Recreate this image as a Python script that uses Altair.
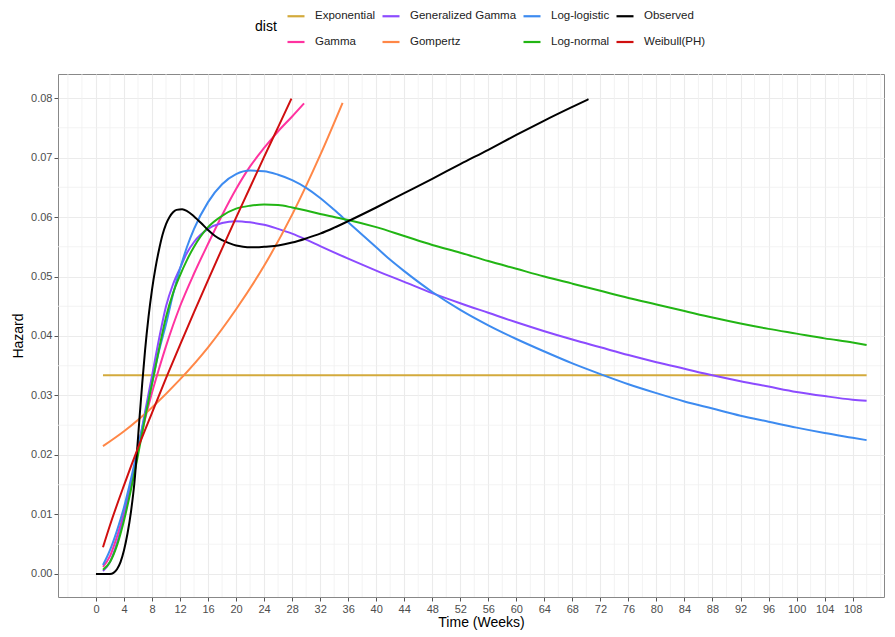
import altair as alt
import pandas as pd

# ---------------- data ----------------
obs_t = [0, 1, 2, 2.5, 3, 3.5, 4, 4.5, 5, 5.5, 5.85, 6.2, 6.6, 7, 7.5, 8, 8.5, 9, 9.5, 10,
         10.5, 11, 11.5, 12.3, 13, 14, 15, 16, 17, 18, 19, 20, 21, 22, 23, 24, 26, 28, 30,
         32, 34, 36, 40, 44, 48, 52, 56, 60, 64, 68, 70.3]
obs_h = [0, 0, 0, 0.0002, 0.0008, 0.0020, 0.0040, 0.0068, 0.0105, 0.0155, 0.0205, 0.0260,
         0.0320, 0.0375, 0.0432, 0.0478, 0.0515, 0.0545, 0.0570, 0.0588, 0.0600, 0.0608,
         0.0612, 0.0613, 0.0610, 0.0601, 0.0590, 0.0578, 0.0568, 0.0561, 0.0556, 0.0552,
         0.0550, 0.0549, 0.0549, 0.0550, 0.0552, 0.0557, 0.0564, 0.0572, 0.0582, 0.0593,
         0.0616, 0.0640, 0.0664, 0.0689, 0.0713, 0.0738, 0.0762, 0.0785, 0.0798]

exp_t = [1, 110]
exp_h = [0.0334, 0.0334]

gam_t = [1, 2, 3, 4, 5, 6, 7, 8, 9, 10, 11, 12, 14, 16, 18, 20, 22, 24, 26, 28, 29.7]
gam_h = [0.0012, 0.0030, 0.0063, 0.0103, 0.0153, 0.0208, 0.0260, 0.0305, 0.0345, 0.0383,
         0.0418, 0.0450, 0.0505, 0.0555, 0.0603, 0.0647, 0.0685, 0.0716, 0.0744, 0.0769,
         0.0791]

gg_t = [1, 2, 3, 4, 5, 6, 7, 8, 9, 10, 11, 12, 13, 14, 16, 18, 20, 22, 24, 26, 28, 30, 32,
        36, 40, 44, 48, 52, 56, 60, 64, 68, 72, 76, 80, 84, 88, 92, 96, 100, 104, 108, 110]
gg_h = [0.0005, 0.0020, 0.0052, 0.0097, 0.0150, 0.0210, 0.0272, 0.0333, 0.0395, 0.0450,
        0.0487, 0.0514, 0.0540, 0.0558, 0.0580, 0.0590, 0.0593, 0.0591, 0.0587, 0.0580,
        0.0572, 0.0562, 0.0551, 0.0530, 0.0510, 0.0491, 0.0472, 0.0455, 0.0439, 0.0423,
        0.0408, 0.0394, 0.0381, 0.0368, 0.0356, 0.0345, 0.0334, 0.0324, 0.0315, 0.0306,
        0.0299, 0.0293, 0.0291]

gomp_t = [1, 4, 8, 12, 16, 20, 24, 28, 32, 35.2]
gomp_h = [0.0215, 0.0240, 0.0280, 0.0327, 0.0381, 0.0445, 0.0518, 0.0604, 0.0704, 0.0792]

ll_t = [1, 2, 3, 4, 5, 6, 7, 8, 9, 10, 11, 12, 13, 14, 16, 18, 20, 22, 24, 26, 28, 30, 32,
        34, 36, 38, 40, 42, 44, 48, 52, 56, 60, 64, 68, 72, 76, 80, 84, 88, 92, 96, 100,
        104, 108, 110]
ll_h = [0.0015, 0.0040, 0.0073, 0.0112, 0.0160, 0.0213, 0.0267, 0.0320, 0.0375, 0.0420,
        0.0470, 0.0513, 0.0550, 0.0580, 0.0625, 0.0655, 0.0672, 0.0678, 0.0677, 0.0671,
        0.0662, 0.0649, 0.0632, 0.0612, 0.0591, 0.0570, 0.0549, 0.0528, 0.0509, 0.0474,
        0.0444, 0.0418, 0.0395, 0.0374, 0.0354, 0.0336, 0.0319, 0.0304, 0.0290, 0.0278,
        0.0266, 0.0256, 0.0246, 0.0237, 0.0229, 0.0225]

ln_t = [1, 2, 3, 4, 5, 6, 7, 8, 9, 10, 11, 12, 13, 14, 16, 18, 20, 22, 24, 26, 28, 30, 32,
        34, 36, 40, 44, 48, 52, 56, 60, 64, 68, 72, 76, 80, 84, 88, 92, 96, 100, 104, 108,
        110]
ln_h = [0.0007, 0.0020, 0.0048, 0.0090, 0.0142, 0.0200, 0.0262, 0.0320, 0.0378, 0.0432,
        0.0472, 0.0502, 0.0528, 0.0550, 0.0583, 0.0602, 0.0614, 0.0619, 0.0621, 0.0620,
        0.0616, 0.0611, 0.0605, 0.0600, 0.0595, 0.0583, 0.0568, 0.0553, 0.0540, 0.0526,
        0.0513, 0.0500, 0.0488, 0.0476, 0.0464, 0.0453, 0.0442, 0.0431, 0.0421, 0.0412,
        0.0404, 0.0396, 0.0389, 0.0385]

wei_t = [1, 2, 4, 6, 8, 10, 12, 14, 16, 18, 20, 22, 24, 26, 27.9]
wei_h = [0.0045, 0.0082, 0.0149, 0.0212, 0.0271, 0.0329, 0.0385, 0.0440, 0.0494, 0.0547,
         0.0599, 0.0650, 0.0701, 0.0751, 0.0799]

dist_names = ["Exponential", "Gamma", "Generalized Gamma", "Gompertz",
              "Log-logistic", "Log-normal", "Observed", "Weibull(PH)"]
legend_order = ["Exponential", "Generalized Gamma", "Log-logistic", "Observed",
                "Gamma", "Gompertz", "Log-normal", "Weibull(PH)"]
legend_colors = ["#D3AA3C", "#8C4BFF", "#3D8BF0", "#000000",
                 "#FF33A0", "#FF8747", "#22B514", "#D00F0F"]

x_ticks = list(range(0, 109, 4))
x_minor = [-4, -2] + list(range(2, 111, 4)) + [112]
y_ticks = [0.00, 0.01, 0.02, 0.03, 0.04, 0.05, 0.06, 0.07, 0.08]
y_minor = [0.005, 0.015, 0.025, 0.035, 0.045, 0.055, 0.065, 0.075]

# ---------------- build table ----------------
series = {
    "Exponential": (exp_t, exp_h),
    "Gamma": (gam_t, gam_h),
    "Generalized Gamma": (gg_t, gg_h),
    "Gompertz": (gomp_t, gomp_h),
    "Log-logistic": (ll_t, ll_h),
    "Log-normal": (ln_t, ln_h),
    "Observed": (obs_t, obs_h),
    "Weibull(PH)": (wei_t, wei_h),
}
rows = []
for name in dist_names:
    ts, hs = series[name]
    for t, h in zip(ts, hs):
        rows.append({"dist": name, "t": t, "h": h})
df = pd.DataFrame(rows)

x_scale = alt.Scale(domain=[-5.42, 112.48], nice=False, zero=False)
y_scale = alt.Scale(domain=[-0.003866, 0.084034], nice=False, zero=False)

font = "Liberation Sans"

x_axis = alt.Axis(values=x_ticks, title="Time (Weeks)", labelFontSize=11,
                  labelColor="#4D4D4D", tickColor="#555555", tickSize=4,
                  labelPadding=2, domain=False, grid=True, gridColor="#EBEBEB",
                  gridWidth=1.1, titleFontSize=14, titleFontWeight="normal",
                  titleColor="#000000", titleX=423, titleY=25,
                  titleBaseline="middle", labelFlush=False)
y_axis = alt.Axis(values=y_ticks, format=".2f", title="Hazard", labelFontSize=11,
                  labelColor="#4D4D4D", tickColor="#555555", tickSize=4,
                  labelPadding=2, domain=False, grid=True, gridColor="#EBEBEB",
                  gridWidth=1.1, titleFontSize=14, titleFontWeight="normal",
                  titleColor="#000000", titleX=-40, titleY=261.5,
                  titleBaseline="middle", labelFlush=False)

minor_x = alt.Chart(pd.DataFrame({"t": x_minor})).mark_rule(
    color="#F0F0F0", strokeWidth=0.8
).encode(x=alt.X("t:Q", scale=x_scale, axis=x_axis))

minor_y = alt.Chart(pd.DataFrame({"h": y_minor})).mark_rule(
    color="#F0F0F0", strokeWidth=0.8
).encode(y=alt.Y("h:Q", scale=y_scale, axis=y_axis))

lines = alt.Chart(df).mark_line(strokeWidth=2, interpolate="monotone").encode(
    x=alt.X("t:Q", scale=x_scale, axis=x_axis),
    y=alt.Y("h:Q", scale=y_scale, axis=y_axis),
    color=alt.Color("dist:N",
                    scale=alt.Scale(domain=legend_order, range=legend_colors),
                    legend=alt.Legend(orient="none", legendX=197, legendY=-68,
                                      direction="horizontal", columns=4, title="dist",
                                      titleOrient="left", titleAnchor="middle",
                                      titleBaseline="middle",
                                      titleFontSize=14, titleFontWeight="normal",
                                      titleColor="#000000", titlePadding=9,
                                      labelFontSize=11.5, labelColor="#222222",
                                      labelOffset=9, columnPadding=2, rowPadding=10,
                                      symbolType="stroke", symbolStrokeWidth=2.2,
                                      symbolSize=289)),
    order=alt.Order("t:Q"),
)

chart = alt.layer(minor_x, minor_y, lines).properties(
    width=826, height=523,
    autosize=alt.AutoSizeParams(type="none"),
    padding={"left": 50, "top": 66, "right": 3, "bottom": 35},
).configure(font=font).configure_view(stroke="#888888", strokeWidth=1)

chart.save("out.html", embed_options={"renderer": "svg", "actions": False})
